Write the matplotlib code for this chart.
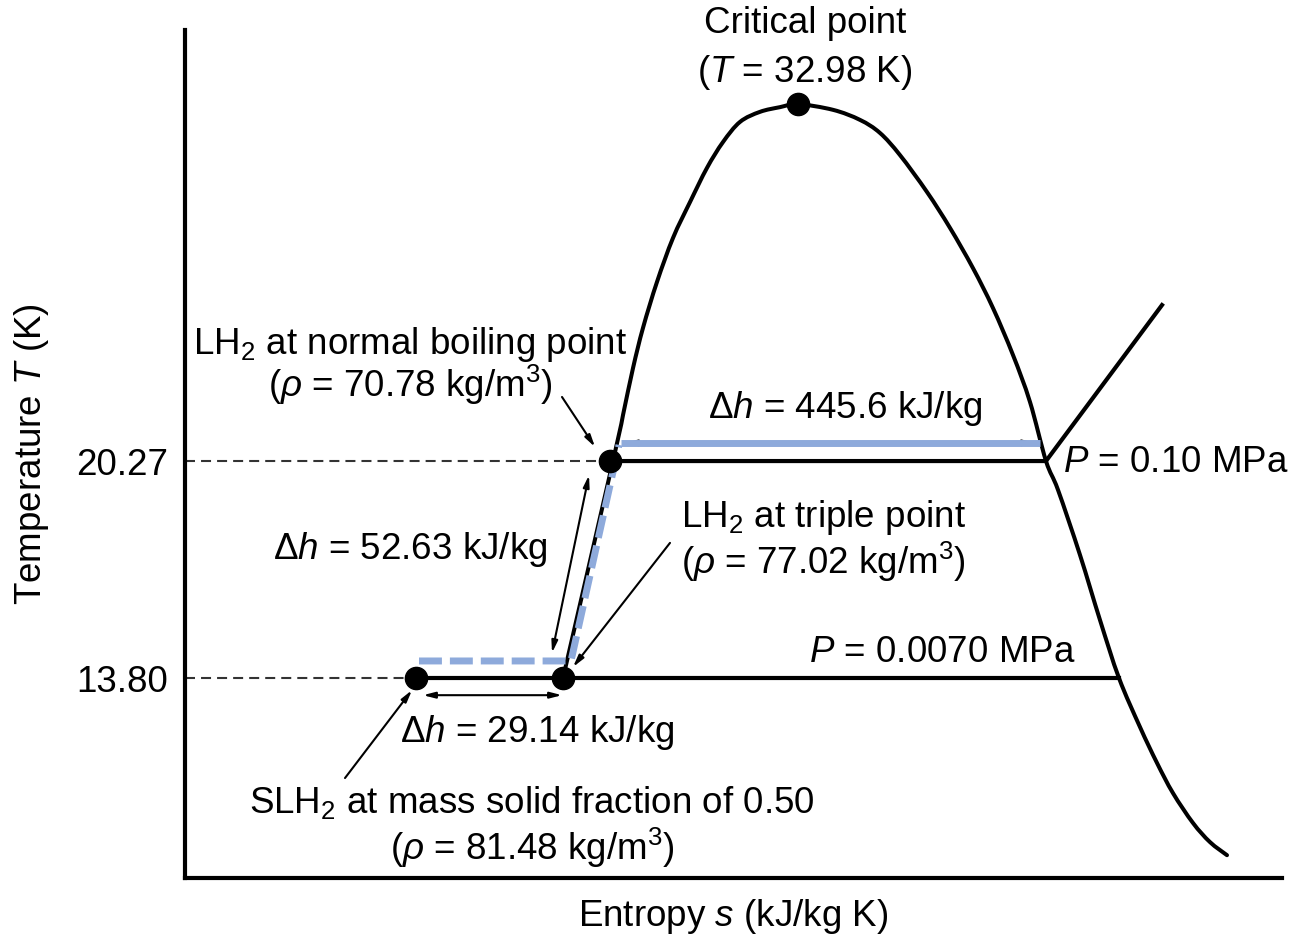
import numpy as np
import matplotlib
matplotlib.use("Agg")
import matplotlib.pyplot as plt
from matplotlib.path import Path
from matplotlib.patches import PathPatch

# schematic T-s diagram of hydrogen; entropy axis in arbitrary units, T not to scale
dome_s = [3.78, 4.28, 4.38, 4.48, 4.58, 4.72, 4.88, 5.05, 5.22, 5.38, 5.55, 5.75, 5.95, 6.13,
          6.48, 6.75, 6.95, 7.15, 7.42, 7.65, 7.88, 8.08, 8.28, 8.45, 8.61, 8.73, 8.95, 9.15,
          9.34, 9.55, 9.72, 9.88, 10.08, 10.25, 10.42]
dome_T = [13.80, 20.27, 21.64, 23.04, 24.24, 25.61, 26.92, 27.99, 29.01, 29.78, 30.38, 30.68,
          30.82, 30.91, 30.74, 30.44, 30.05, 29.39, 28.29, 27.22, 26.02, 24.83, 23.43, 22.03,
          20.27, 19.41, 17.47, 15.53, 13.80, 12.34, 11.27, 10.37, 9.48, 8.91, 8.52]

# SLH2, triple point, normal boiling point, critical point
state_s = [2.31, 3.78, 4.25, 6.13]
state_T = [13.80, 13.80, 20.27, 30.91]

p010_s = [4.28, 8.61, 9.77]
p010_T = [20.27, 20.27, 24.92]
p0007_s = [2.31, 9.34]
p0007_T = [13.80, 13.80]

blue_dash_s = [2.34, 3.86, 4.34]
blue_dash_T = [14.31, 14.31, 20.75]
blue_solid_s = [4.36, 8.55]
blue_solid_T = [20.81, 20.81]

dh_liq = ([4.04, 19.85], [3.67, 14.55])
dh_fus = ([2.38, 13.29], [3.77, 13.29])
dh_vap = ([4.40, 20.81], [8.50, 20.81])

yticks = [20.27, 13.80]
ytick_labels = ["20.27", "13.80"]


def smooth_path(xs, ys):
    # Catmull-Rom through the read points, handed to matplotlib as cubic Bezier segments
    p = np.column_stack([xs, ys])
    verts, codes = [p[0]], [Path.MOVETO]
    for i in range(len(p) - 1):
        p0 = p[i - 1] if i > 0 else p[i]
        p3 = p[i + 2] if i + 2 < len(p) else p[i + 1]
        verts += [p[i] + (p[i + 1] - p0) / 6, p[i + 1] - (p3 - p[i]) / 6, p[i + 1]]
        codes += [Path.CURVE4] * 3
    return Path(verts, codes)


plt.rcParams.update({
    "font.family": "Liberation Sans",
    "mathtext.fontset": "custom",
    "mathtext.rm": "Liberation Sans",
    "mathtext.it": "Liberation Sans:italic",
    "mathtext.bf": "Liberation Sans:bold",
})

FS = 26.5
BLUE = "#8eaadb"

fig = plt.figure(figsize=(12.91, 9.39), dpi=100)
ax = fig.add_axes([185 / 1291, 61 / 939, 1097 / 1291, 848 / 939])
ax.set_xlim(0, 10.97)
ax.set_ylim(7.84, 33.12)

for sp in ("top", "right"):
    ax.spines[sp].set_visible(False)
for sp in ("left", "bottom"):
    ax.spines[sp].set_linewidth(3)
ax.set_xticks([])
ax.set_yticks(yticks)
ax.set_yticklabels(ytick_labels, fontsize=FS)
ax.tick_params(axis="y", length=0, pad=12)

# reference dashes to the temperature axis
ax.plot([0, state_s[2]], [state_T[2]] * 2, color="#333", lw=1.5, ls=(0, (4.8, 2.9)), zorder=1)
ax.plot([0, state_s[0]], [state_T[0]] * 2, color="#333", lw=1.5, ls=(0, (4.8, 2.9)), zorder=1)

ax.add_patch(PathPatch(smooth_path(dome_s, dome_T), fill=False, edgecolor="black", lw=2.9,
                       capstyle="round", zorder=2))
ax.plot(p010_s, p010_T, color="black", lw=3, zorder=2)
ax.plot(p0007_s, p0007_T, color="black", lw=3, zorder=2)

ax.plot(blue_dash_s, blue_dash_T, color=BLUE, lw=5, ls=(0, (3.3, 1.15)), zorder=4)
ax.plot(blue_solid_s, blue_solid_T, color=BLUE, lw=5, solid_capstyle="butt", zorder=4)

ax.plot(state_s, state_T, "o", color="black", ms=16, zorder=5)

for a, b in (dh_liq, dh_fus, dh_vap):
    ax.annotate("", xy=b, xytext=a,
                arrowprops=dict(arrowstyle="<|-|>,head_length=0.7,head_width=0.18",
                                color="black", lw=1.5, shrinkA=0, shrinkB=0), zorder=3)

arrow = dict(arrowstyle="-|>,head_length=0.7,head_width=0.18", color="black", lw=1.5,
             shrinkA=0, shrinkB=0)
ax.annotate("", xy=(4.10, 20.69), xytext=(3.77, 22.18), arrowprops=arrow)
ax.annotate("", xy=(3.88, 14.13), xytext=(4.85, 17.83), arrowprops=arrow)
ax.annotate("", xy=(2.27, 13.44), xytext=(1.60, 10.82), arrowprops=arrow)

txt = dict(fontsize=FS, ha="center", va="center", clip_on=False)
ax.text(6.20, 33.30, "Critical point", **txt)
ax.text(6.20, 31.85, "($T$ = 32.98 K)", **txt)
ax.text(2.25, 23.73, "LH$_2$ at normal boiling point", **txt)
ax.text(2.25, 22.54, r"($\rho$ = 70.78 kg/m$^3$)", **txt)
ax.text(6.60, 21.85, r"$\Delta h$ = 445.6 kJ/kg", **txt)
ax.text(8.78, 20.24, "$P$ = 0.10 MPa", fontsize=FS, ha="left", va="center")
ax.text(6.38, 18.60, "LH$_2$ at triple point", **txt)
ax.text(6.38, 17.26, r"($\rho$ = 77.02 kg/m$^3$)", **txt)
ax.text(2.25, 17.62, r"$\Delta h$ = 52.63 kJ/kg", **txt)
ax.text(7.57, 14.55, "$P$ = 0.0070 MPa", **txt)
ax.text(3.52, 12.19, r"$\Delta h$ = 29.14 kJ/kg", **txt)
ax.text(3.47, 10.10, "SLH$_2$ at mass solid fraction of 0.50", **txt)
ax.text(3.47, 8.73, r"($\rho$ = 81.48 kg/m$^3$)", **txt)

ax.set_xlabel("Entropy $s$ (kJ/kg K)", fontsize=FS)
ax.xaxis.set_label_coords(0.5, -0.022)
ax.set_ylabel("Temperature $T$ (K)", fontsize=FS)
ax.yaxis.set_label_coords(-0.122, 0.5)

fig.savefig("out.png", dpi=100, facecolor="white")
